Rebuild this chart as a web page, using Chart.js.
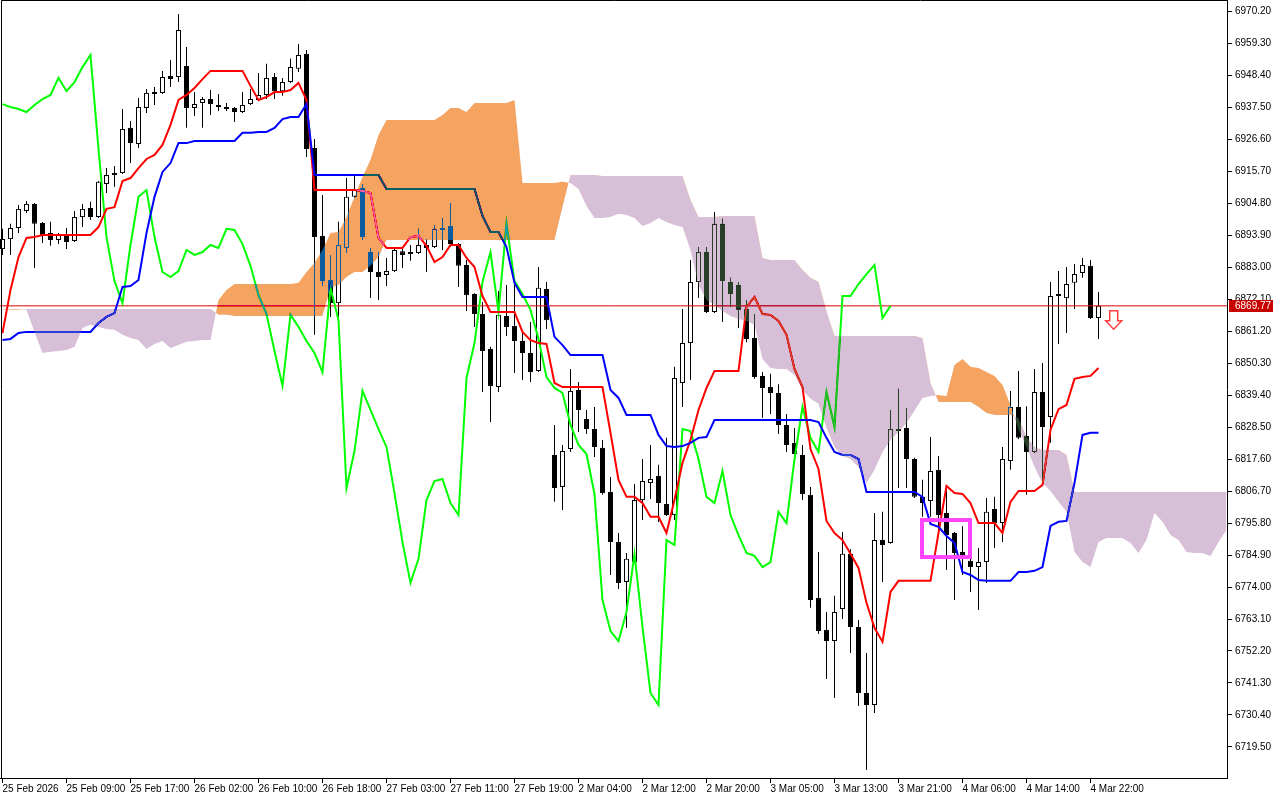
<!DOCTYPE html>
<html>
<head>
<meta charset="utf-8">
<title>H1 Ichimoku</title>
<script src="https://cdn.jsdelivr.net/npm/chart.js@4.4.1/dist/chart.umd.min.js"></script>
<style>
  html, body { margin: 0; padding: 0; background: #fff; }
  #chart { display: block; }
</style>
</head>
<body>
<canvas id="chart" width="1280" height="800"></canvas>
<script>
// H1 bars, 25 Feb 2026 01:00 .. 4 Mar 2026 23:00
const opens = [
  6889.1, 6892.5, 6896.3, 6902.1, 6904.5, 6898.0, 6894.6, 6892.2, 6893.9, 6891.9,
  6900.0, 6903.1, 6900.0, 6911.3, 6914.3, 6915.0, 6930.4, 6924.9, 6937.2, 6942.6,
  6942.3, 6948.1, 6947.7, 6951.5, 6937.2, 6938.9, 6940.2, 6938.2, 6937.5, 6937.2,
  6935.8, 6938.5, 6939.9, 6941.6, 6947.7, 6942.9, 6946.0, 6950.5, 6955.6, 6923.5,
  6893.6, 6878.6, 6870.7, 6889.5, 6906.9, 6909.9, 6888.1, 6881.3, 6880.3, 6881.6,
  6888.4, 6887.4, 6887.8, 6890.5, 6889.8, 6896.3, 6897.0, 6890.8, 6883.7, 6873.8,
  6867.0, 6855.1, 6842.1, 6866.3, 6862.9, 6857.8, 6853.7, 6847.6, 6875.5, 6819.0,
  6808.1, 6821.0, 6841.1, 6831.2, 6827.8, 6821.4, 6806.4, 6789.3, 6775.7, 6782.5,
  6803.6, 6809.4, 6811.8, 6802.3, 6798.5, 6843.5, 6857.1, 6877.9, 6888.1, 6867.7,
  6897.7, 6877.9, 6876.9, 6868.7, 6858.8, 6845.9, 6842.1, 6840.1, 6829.2, 6823.1,
  6819.0, 6805.4, 6770.3, 6759.4, 6755.6, 6766.5, 6785.3, 6760.4, 6737.9, 6733.8,
  6790.0, 6789.0, 6827.8, 6828.2, 6817.6, 6804.7, 6803.3, 6813.9, 6799.2, 6792.4,
  6785.9, 6782.9, 6780.8, 6782.5, 6800.6, 6795.8, 6816.9, 6835.3, 6825.4, 6820.0,
  6840.4, 6831.9, 6873.8, 6872.4, 6877.6, 6881.0, 6883.4, 6865.6
];
const highs = [
  6896.0, 6897.7, 6904.1, 6905.5, 6904.8, 6898.3, 6898.4, 6894.6, 6896.3, 6902.1,
  6904.5, 6905.2, 6912.3, 6916.7, 6917.4, 6936.8, 6932.7, 6940.6, 6943.6, 6944.3,
  6949.8, 6953.5, 6969.2, 6957.9, 6942.6, 6940.9, 6943.3, 6941.9, 6938.9, 6937.5,
  6942.6, 6943.6, 6949.1, 6952.2, 6949.1, 6947.4, 6953.9, 6959.0, 6956.9, 6926.6,
  6907.5, 6887.1, 6898.4, 6913.3, 6914.0, 6911.3, 6889.5, 6888.1, 6886.1, 6889.1,
  6889.8, 6890.5, 6896.0, 6892.5, 6897.3, 6899.7, 6904.8, 6891.2, 6885.4, 6874.1,
  6871.1, 6855.8, 6874.8, 6876.9, 6876.9, 6860.5, 6864.3, 6883.0, 6877.9, 6829.2,
  6822.4, 6848.3, 6843.8, 6834.3, 6835.3, 6824.1, 6811.5, 6792.4, 6785.6, 6809.1,
  6817.6, 6822.4, 6815.6, 6824.8, 6849.0, 6868.7, 6885.4, 6889.8, 6889.8, 6901.7,
  6899.4, 6879.3, 6877.9, 6871.8, 6867.0, 6847.2, 6846.6, 6843.1, 6832.9, 6828.2,
  6822.4, 6808.1, 6785.9, 6765.5, 6771.0, 6792.7, 6786.9, 6762.8, 6751.5, 6799.2,
  6799.6, 6834.3, 6841.5, 6835.0, 6818.0, 6810.5, 6825.1, 6818.6, 6807.7, 6792.7,
  6794.8, 6791.7, 6787.3, 6804.3, 6804.7, 6821.7, 6840.8, 6847.6, 6835.6, 6848.3,
  6850.3, 6877.9, 6881.6, 6883.0, 6884.0, 6886.1, 6885.4, 6874.5
];
const lows = [
  6887.1, 6887.1, 6894.6, 6901.4, 6882.7, 6891.2, 6890.2, 6890.8, 6889.1, 6891.5,
  6896.6, 6899.0, 6899.7, 6908.2, 6910.3, 6914.7, 6918.4, 6923.5, 6935.5, 6938.2,
  6941.9, 6944.3, 6946.0, 6930.4, 6934.4, 6930.4, 6934.8, 6936.1, 6936.1, 6932.4,
  6935.5, 6938.2, 6939.5, 6940.2, 6940.2, 6941.3, 6945.7, 6949.4, 6920.5, 6859.9,
  6876.5, 6866.0, 6866.0, 6887.8, 6906.5, 6892.2, 6872.4, 6871.8, 6876.5, 6881.3,
  6882.7, 6885.1, 6887.4, 6881.3, 6889.5, 6888.8, 6889.8, 6876.2, 6868.0, 6862.6,
  6840.4, 6830.2, 6840.4, 6859.5, 6846.9, 6844.5, 6843.8, 6847.2, 6861.9, 6803.0,
  6800.2, 6820.0, 6826.8, 6826.1, 6818.3, 6805.4, 6778.1, 6773.3, 6760.1, 6782.2,
  6796.8, 6804.0, 6796.1, 6798.2, 6796.8, 6835.3, 6844.5, 6872.4, 6867.3, 6867.3,
  6864.3, 6869.4, 6862.2, 6857.4, 6844.9, 6831.6, 6832.9, 6826.1, 6820.0, 6818.6,
  6803.6, 6766.9, 6758.0, 6742.7, 6736.2, 6763.1, 6751.5, 6733.5, 6711.7, 6731.1,
  6775.7, 6788.7, 6807.7, 6807.7, 6804.3, 6797.9, 6797.9, 6792.7, 6779.8, 6769.6,
  6778.1, 6772.3, 6766.2, 6775.4, 6787.3, 6789.3, 6813.9, 6824.4, 6805.4, 6819.7,
  6810.8, 6823.1, 6856.8, 6860.5, 6868.7, 6879.3, 6865.3, 6858.5
];
const closes = [
  6892.5, 6896.3, 6902.8, 6904.5, 6897.7, 6893.9, 6892.2, 6893.9, 6891.5, 6900.0,
  6902.8, 6900.0, 6912.0, 6914.3, 6915.0, 6930.0, 6925.2, 6937.5, 6942.3, 6941.9,
  6947.7, 6947.0, 6963.7, 6937.2, 6938.5, 6940.2, 6938.5, 6937.5, 6936.8, 6935.8,
  6938.2, 6940.2, 6941.6, 6947.4, 6942.9, 6946.0, 6951.1, 6955.2, 6923.2, 6893.2,
  6878.2, 6870.7, 6890.5, 6906.9, 6909.2, 6893.2, 6881.3, 6879.6, 6881.6, 6888.8,
  6887.1, 6888.1, 6890.5, 6889.5, 6896.0, 6895.6, 6890.8, 6883.4, 6873.4, 6867.0,
  6854.4, 6842.5, 6866.7, 6862.6, 6857.8, 6853.7, 6847.2, 6875.9, 6864.9, 6807.7,
  6820.3, 6840.8, 6834.3, 6827.8, 6821.7, 6806.0, 6789.3, 6775.4, 6783.6, 6803.6,
  6810.1, 6810.8, 6802.6, 6798.5, 6845.2, 6857.1, 6877.9, 6888.1, 6867.7, 6897.7,
  6878.2, 6873.8, 6868.4, 6858.5, 6845.5, 6841.8, 6840.1, 6829.2, 6822.4, 6819.3,
  6805.7, 6769.6, 6759.0, 6755.6, 6765.5, 6785.3, 6760.4, 6737.9, 6733.8, 6790.0,
  6788.3, 6827.8, 6827.1, 6817.6, 6804.7, 6802.6, 6813.5, 6798.5, 6791.7, 6785.6,
  6784.6, 6780.8, 6782.5, 6799.6, 6795.8, 6817.6, 6835.3, 6824.8, 6820.0, 6840.4,
  6828.5, 6873.1, 6873.1, 6877.2, 6880.6, 6883.7, 6865.6, 6869.77
];

// Ichimoku lines as drawn on the chart
const tenkan = [
  6860.5, 6875.2, 6886.4, 6892.9, 6893.2, 6893.9, 6893.9, 6893.9, 6893.9, 6893.9,
  6893.9, 6893.9, 6896.6, 6902.8, 6903.4, 6912.3, 6913.3, 6916.7, 6919.8, 6921.2,
  6924.6, 6931.4, 6939.9, 6941.6, 6944.0, 6947.0, 6949.8, 6949.8, 6949.8, 6949.8,
  6949.8, 6944.7, 6939.9, 6940.9, 6942.6, 6942.6, 6943.3, 6945.7, 6939.9, 6909.2,
  6909.2, 6909.2, 6909.2, 6909.2, 6909.2, 6908.9, 6908.2, 6892.9, 6889.5, 6889.5,
  6889.5, 6893.2, 6893.6, 6890.2, 6884.7, 6886.4, 6890.5, 6890.5, 6886.1, 6883.0,
  6873.1, 6867.7, 6867.7, 6867.7, 6867.7, 6860.9, 6858.1, 6857.1, 6856.8, 6843.5,
  6842.1, 6842.1, 6842.1, 6842.1, 6842.1, 6842.1, 6826.5, 6810.5, 6804.7, 6804.7,
  6802.6, 6797.9, 6797.9, 6792.4, 6803.7, 6816.3, 6824.1, 6834.3, 6841.8, 6847.6,
  6847.6, 6847.6, 6847.6, 6869.4, 6872.8, 6867.0, 6866.7, 6864.6, 6859.9, 6848.3,
  6842.1, 6821.0, 6814.2, 6796.5, 6792.4, 6790.0, 6785.3, 6780.5, 6768.6, 6760.1,
  6755.3, 6772.3, 6776.1, 6776.1, 6776.1, 6776.1, 6776.1, 6792.4, 6808.4, 6806.0,
  6805.7, 6802.6, 6795.8, 6795.8, 6795.8, 6792.4, 6803.0, 6806.7, 6806.7, 6806.7,
  6808.8, 6827.5, 6834.6, 6836.0, 6844.9, 6845.5, 6845.9, 6848.6
];
const kijun = [
  6858.1, 6858.5, 6860.5, 6860.9, 6860.9, 6860.9, 6860.9, 6860.9, 6860.9, 6860.9,
  6860.9, 6860.9, 6863.9, 6866.0, 6867.3, 6876.2, 6876.5, 6878.6, 6894.6, 6906.9,
  6915.4, 6918.4, 6925.2, 6925.2, 6925.9, 6925.9, 6925.9, 6925.9, 6925.9, 6925.9,
  6928.7, 6928.7, 6929.0, 6929.0, 6930.4, 6933.4, 6934.1, 6934.1, 6938.5, 6914.3,
  6914.3, 6914.3, 6914.3, 6914.3, 6914.3, 6914.3, 6914.3, 6914.3, 6909.6, 6909.6,
  6909.6, 6909.6, 6909.6, 6909.6, 6909.6, 6909.6, 6909.6, 6909.6, 6909.6, 6909.6,
  6900.4, 6894.9, 6894.9, 6889.8, 6877.6, 6872.8, 6872.8, 6872.8, 6872.8, 6859.2,
  6856.4, 6853.0, 6853.0, 6853.0, 6853.0, 6853.0, 6841.1, 6838.4, 6832.6, 6832.6,
  6832.6, 6832.6, 6825.8, 6822.0, 6821.7, 6822.0, 6823.1, 6824.8, 6825.1, 6830.9,
  6830.9, 6830.9, 6830.9, 6830.9, 6830.9, 6830.9, 6830.9, 6830.9, 6830.9, 6830.9,
  6830.9, 6830.9, 6830.2, 6824.8, 6820.0, 6819.0, 6819.0, 6817.6, 6806.4, 6806.4,
  6806.4, 6806.4, 6806.4, 6806.4, 6806.4, 6804.7, 6795.5, 6794.5, 6791.4, 6789.0,
  6779.1, 6778.1, 6776.4, 6776.1, 6776.1, 6776.1, 6776.1, 6779.1, 6779.1, 6779.5,
  6780.8, 6794.8, 6796.2, 6796.5, 6809.4, 6825.8, 6826.5, 6826.5
];
// senkou spans, already shifted 26 bars ahead (visible part only)
const senkouA = [
  6868.7, 6868.7, 6868.7, 6868.4, 6860.9, 6853.7, 6854.1, 6854.4, 6854.7, 6855.8,
  6862.2, 6863.3, 6862.6, 6861.9, 6861.6, 6859.9, 6858.8, 6858.1, 6855.1, 6856.8,
  6857.8, 6855.4, 6856.4, 6857.5, 6857.8, 6858.1, 6858.1, 6871.8, 6875.2, 6877.2,
  6877.2, 6877.2, 6877.2, 6877.2, 6877.2, 6877.2, 6877.2, 6877.6, 6881.3, 6884.4,
  6888.8, 6894.6, 6894.9, 6900.0, 6906.9, 6913.7, 6919.5, 6928.0, 6933.1, 6933.1,
  6933.1, 6933.1, 6933.1, 6933.1, 6933.1, 6934.8, 6937.2, 6937.2, 6935.8, 6938.9,
  6938.9, 6938.9, 6938.9, 6938.9, 6939.9, 6911.6, 6911.6, 6911.6, 6911.6, 6911.6,
  6912.0, 6911.6, 6909.6, 6903.8, 6899.7, 6899.7, 6900.0, 6901.1, 6900.7, 6899.7,
  6897.0, 6898.0, 6899.7, 6898.3, 6897.3, 6896.6, 6888.8, 6876.9, 6871.8, 6870.1,
  6868.0, 6866.3, 6865.3, 6864.6, 6863.3, 6851.7, 6848.6, 6848.3, 6848.3, 6846.2,
  6841.1, 6838.1, 6836.4, 6828.2, 6821.7, 6818.6, 6817.6, 6814.9, 6809.4, 6813.9,
  6820.0, 6824.1, 6826.8, 6829.9, 6834.0, 6838.4, 6839.1, 6839.4, 6839.1, 6849.6,
  6851.7, 6849.0, 6848.6, 6847.2, 6845.9, 6842.8, 6836.0, 6827.5, 6821.7, 6814.9,
  6809.4, 6806.7, 6803.0, 6799.6, 6785.9, 6782.5, 6780.8, 6789.3, 6790.7, 6790.7,
  6790.7, 6789.0, 6785.6, 6790.0, 6799.2, 6796.2, 6791.7, 6790.0, 6785.9, 6785.6,
  6785.6, 6784.6, 6789.3, 6793.4
];
const senkouB = [
  6868.4, 6868.4, 6868.4, 6868.7, 6868.7, 6868.7, 6868.7, 6868.7, 6868.7, 6868.7,
  6868.7, 6868.7, 6868.7, 6868.7, 6868.7, 6868.7, 6868.7, 6868.7, 6868.7, 6868.7,
  6868.7, 6868.7, 6868.7, 6868.7, 6868.7, 6868.7, 6868.7, 6866.7, 6866.7, 6866.3,
  6866.3, 6866.3, 6866.3, 6866.3, 6866.3, 6866.3, 6866.3, 6866.3, 6866.3, 6866.3,
  6866.3, 6875.9, 6876.9, 6879.6, 6881.3, 6881.3, 6883.4, 6886.4, 6892.2, 6892.2,
  6892.2, 6892.2, 6892.2, 6892.2, 6892.2, 6892.2, 6892.2, 6892.2, 6892.2, 6892.2,
  6892.2, 6892.2, 6892.2, 6892.2, 6892.2, 6892.2, 6892.2, 6892.2, 6892.2, 6892.2,
  6903.4, 6914.3, 6914.3, 6914.3, 6914.3, 6914.0, 6914.0, 6914.0, 6914.0, 6914.0,
  6914.0, 6914.0, 6914.0, 6914.0, 6914.0, 6914.0, 6905.8, 6900.0, 6900.0, 6900.0,
  6900.4, 6900.4, 6900.4, 6900.4, 6900.4, 6886.1, 6885.4, 6885.4, 6885.4, 6885.4,
  6882.0, 6879.3, 6877.9, 6868.0, 6859.5, 6859.5, 6859.5, 6859.5, 6859.5, 6859.5,
  6859.5, 6859.5, 6859.5, 6859.5, 6859.5, 6858.8, 6843.5, 6837.0, 6837.0, 6837.0,
  6837.0, 6837.0, 6835.3, 6833.3, 6832.6, 6832.6, 6832.6, 6831.6, 6825.1, 6821.7,
  6820.7, 6820.7, 6820.7, 6819.0, 6806.4, 6806.4, 6806.4, 6806.4, 6806.4, 6806.4,
  6806.4, 6806.4, 6806.4, 6806.4, 6806.4, 6806.4, 6806.4, 6806.4, 6806.4, 6806.4,
  6806.4, 6806.4, 6806.4, 6806.4
];

const timeTickBars = [0, 8, 16, 24, 32, 40, 48, 56, 64, 72, 80, 88, 96, 104, 112, 120, 128, 136];
const timeLabels = [
  '25 Feb 2026', '25 Feb 09:00', '25 Feb 17:00', '26 Feb 02:00', '26 Feb 10:00', '26 Feb 18:00',
  '27 Feb 03:00', '27 Feb 11:00', '27 Feb 19:00', '2 Mar 04:00', '2 Mar 12:00', '2 Mar 20:00',
  '3 Mar 05:00', '3 Mar 13:00', '3 Mar 21:00', '4 Mar 06:00', '4 Mar 14:00', '4 Mar 22:00'
];
const priceTicks = [
  6970.20, 6959.30, 6948.40, 6937.50, 6926.60, 6915.70, 6904.80, 6893.90, 6883.00, 6872.10,
  6861.20, 6850.30, 6839.40, 6828.50, 6817.60, 6806.70, 6795.80, 6784.90, 6774.00, 6763.10,
  6752.20, 6741.30, 6730.40, 6719.50
];
const lastPrice = 6869.77;
const CHIKOU_SHIFT = 26;

// objects placed on the chart by hand
const markBox = { fromBar: 114.94, toBar: 120.94, top: 6796.8, bottom: 6784.2 };
const sellArrow = { bar: 138.9, price: 6868.1 };

const FONT = 'Liberation Sans';
Chart.defaults.font.family = FONT;
Chart.defaults.font.size = 10;
Chart.defaults.color = '#000';

const pts = arr => arr.map((v, i) => ({ x: i, y: v }));
const chikou = pts(closes.slice(CHIKOU_SHIFT));

// MT5 paints the cloud in xor-like mode: emulate with 'difference'
const cloudBlend = {
  id: 'cloudBlend',
  beforeDraw(chart) {
    // opaque backdrop, or 'difference' has nothing to blend with
    const { ctx, width, height } = chart;
    ctx.save();
    ctx.fillStyle = '#fff';
    ctx.fillRect(0, 0, width, height);
    ctx.restore();
  },
  afterDatasetDraw(chart, args) {
    const metas = chart.getSortedVisibleDatasetMetas();
    if (metas.length > 1 && args.meta === metas[1]) {
      chart.ctx.globalCompositeOperation = 'difference';
    }
  },
  afterDatasetsDraw(chart) {
    chart.ctx.globalCompositeOperation = 'source-over';
  }
};

const overlays = {
  id: 'overlays',
  afterDraw(chart) {
    const { ctx, chartArea: a, scales: { x, y } } = chart;
    ctx.save();
    // frame
    ctx.strokeStyle = '#000';
    ctx.lineWidth = 1;
    ctx.beginPath();
    ctx.moveTo(1.5, a.bottom);
    ctx.lineTo(1.5, 0.5);
    ctx.lineTo(a.right, 0.5);
    ctx.stroke();

    // magenta box
    const bx1 = x.getPixelForValue(markBox.fromBar);
    const bx2 = x.getPixelForValue(markBox.toBar);
    const by1 = y.getPixelForValue(markBox.top);
    const by2 = y.getPixelForValue(markBox.bottom);
    ctx.strokeStyle = '#ff44ff';
    ctx.lineWidth = 4;
    ctx.strokeRect(bx1, by1, bx2 - bx1, by2 - by1);

    // sell arrow
    const ax = x.getPixelForValue(sellArrow.bar);
    const ay = y.getPixelForValue(sellArrow.price);
    ctx.beginPath();
    ctx.moveTo(ax - 4, ay);
    ctx.lineTo(ax + 4, ay);
    ctx.lineTo(ax + 4, ay + 10);
    ctx.lineTo(ax + 8, ay + 10);
    ctx.lineTo(ax, ay + 18.5);
    ctx.lineTo(ax - 8, ay + 10);
    ctx.lineTo(ax - 4, ay + 10);
    ctx.closePath();
    ctx.fillStyle = '#fff';
    ctx.fill();
    ctx.strokeStyle = '#ff4040';
    ctx.lineWidth = 1.5;
    ctx.stroke();

    // last price tag on the axis
    const py = Math.round(y.getPixelForValue(lastPrice));
    ctx.fillStyle = '#c80000';
    ctx.fillRect(a.right + 2, py - 6, 44, 12);
    ctx.fillStyle = '#fff';
    ctx.font = '10px "' + FONT + '"';
    ctx.textBaseline = 'middle';
    ctx.textAlign = 'left';
    ctx.fillText(lastPrice.toFixed(2), a.right + 8, py + 0.5);
    ctx.restore();
  }
};

new Chart(document.getElementById('chart'), {
  type: 'bar',
  data: {
    datasets: [
      {
        label: 'wick',
        data: lows.map((l, i) => ({ x: i, y: [l, highs[i]] })),
        backgroundColor: '#000',
        barThickness: 1,
        grouped: false,
        inflateAmount: 0,
        order: 6
      },
      {
        label: 'body',
        data: opens.map((o, i) => ({ x: i, y: [o, closes[i]] })),
        backgroundColor: opens.map((o, i) => closes[i] >= o ? '#fff' : '#000'),
        borderColor: '#000',
        borderWidth: 1,
        borderSkipped: false,
        barThickness: 5,
        grouped: false,
        inflateAmount: 0,
        order: 5
      },
      {
        type: 'line',
        label: 'last',
        data: [{ x: -1, y: lastPrice }, { x: 170, y: lastPrice }],
        borderColor: '#e00000',
        borderWidth: 1,
        pointRadius: 0,
        order: 4
      },
      {
        type: 'line',
        label: 'Chikou Span',
        data: chikou,
        borderColor: '#00ff00',
        borderWidth: 2,
        pointRadius: 0,
        tension: 0,
        order: 3
      },
      {
        type: 'line',
        label: 'Kijun-sen',
        data: pts(kijun),
        borderColor: '#0000ff',
        borderWidth: 2,
        pointRadius: 0,
        tension: 0,
        order: 2
      },
      {
        type: 'line',
        label: 'Tenkan-sen',
        data: pts(tenkan),
        borderColor: '#ff0000',
        borderWidth: 2,
        pointRadius: 0,
        tension: 0,
        order: 2
      },
      {
        type: 'line',
        label: 'Senkou Span B',
        data: pts(senkouB),
        borderColor: 'rgba(0,0,0,0)',
        borderWidth: 0,
        pointRadius: 0,
        tension: 0,
        order: 1
      },
      {
        type: 'line',
        label: 'Senkou Span A',
        data: pts(senkouA),
        borderColor: 'rgba(0,0,0,0)',
        borderWidth: 0,
        pointRadius: 0,
        tension: 0,
        // inverse of SandyBrown / Thistle, painted with 'difference'
        fill: { target: 6, above: 'rgb(11,91,159)', below: 'rgb(39,64,39)' },
        order: 0
      }
    ]
  },
  options: {
    responsive: false,
    animation: false,
    devicePixelRatio: 1,
    layout: { padding: 0 },
    plugins: {
      legend: { display: false },
      tooltip: { enabled: false },
      filler: { propagate: false }
    },
    scales: {
      x: {
        type: 'linear',
        min: -0.3125,
        max: 153.0625,
        offset: false,
        grid: { display: true, drawOnChartArea: false, drawTicks: true, tickLength: 5, color: '#000', offset: false },
        border: { display: true, color: '#000' },
        ticks: {
          autoSkip: false,
          maxRotation: 0,
          minRotation: 0,
          align: 'start',
          padding: 0,
          color: '#000',
          font: { family: FONT, size: 10 },
          callback: v => timeLabels[timeTickBars.indexOf(v)]
        },
        afterBuildTicks: s => { s.ticks = timeTickBars.map(v => ({ value: v })); },
        afterFit: s => { s.height = 22; s.paddingLeft = 0; s.paddingRight = 0; }
      },
      y: {
        position: 'right',
        min: 6708.94,
        max: 6973.95,
        grid: { display: true, drawOnChartArea: false, drawTicks: true, tickLength: 5, color: '#000' },
        border: { display: true, color: '#000' },
        ticks: {
          padding: 3,
          color: '#000',
          font: { family: FONT, size: 10 },
          callback: v => v.toFixed(2)
        },
        afterBuildTicks: s => { s.ticks = priceTicks.map(v => ({ value: v })); },
        afterFit: s => { s.width = 53; s.paddingTop = 0; s.paddingBottom = 0; }
      }
    }
  },
  plugins: [cloudBlend, overlays]
});
</script>
</body>
</html>
